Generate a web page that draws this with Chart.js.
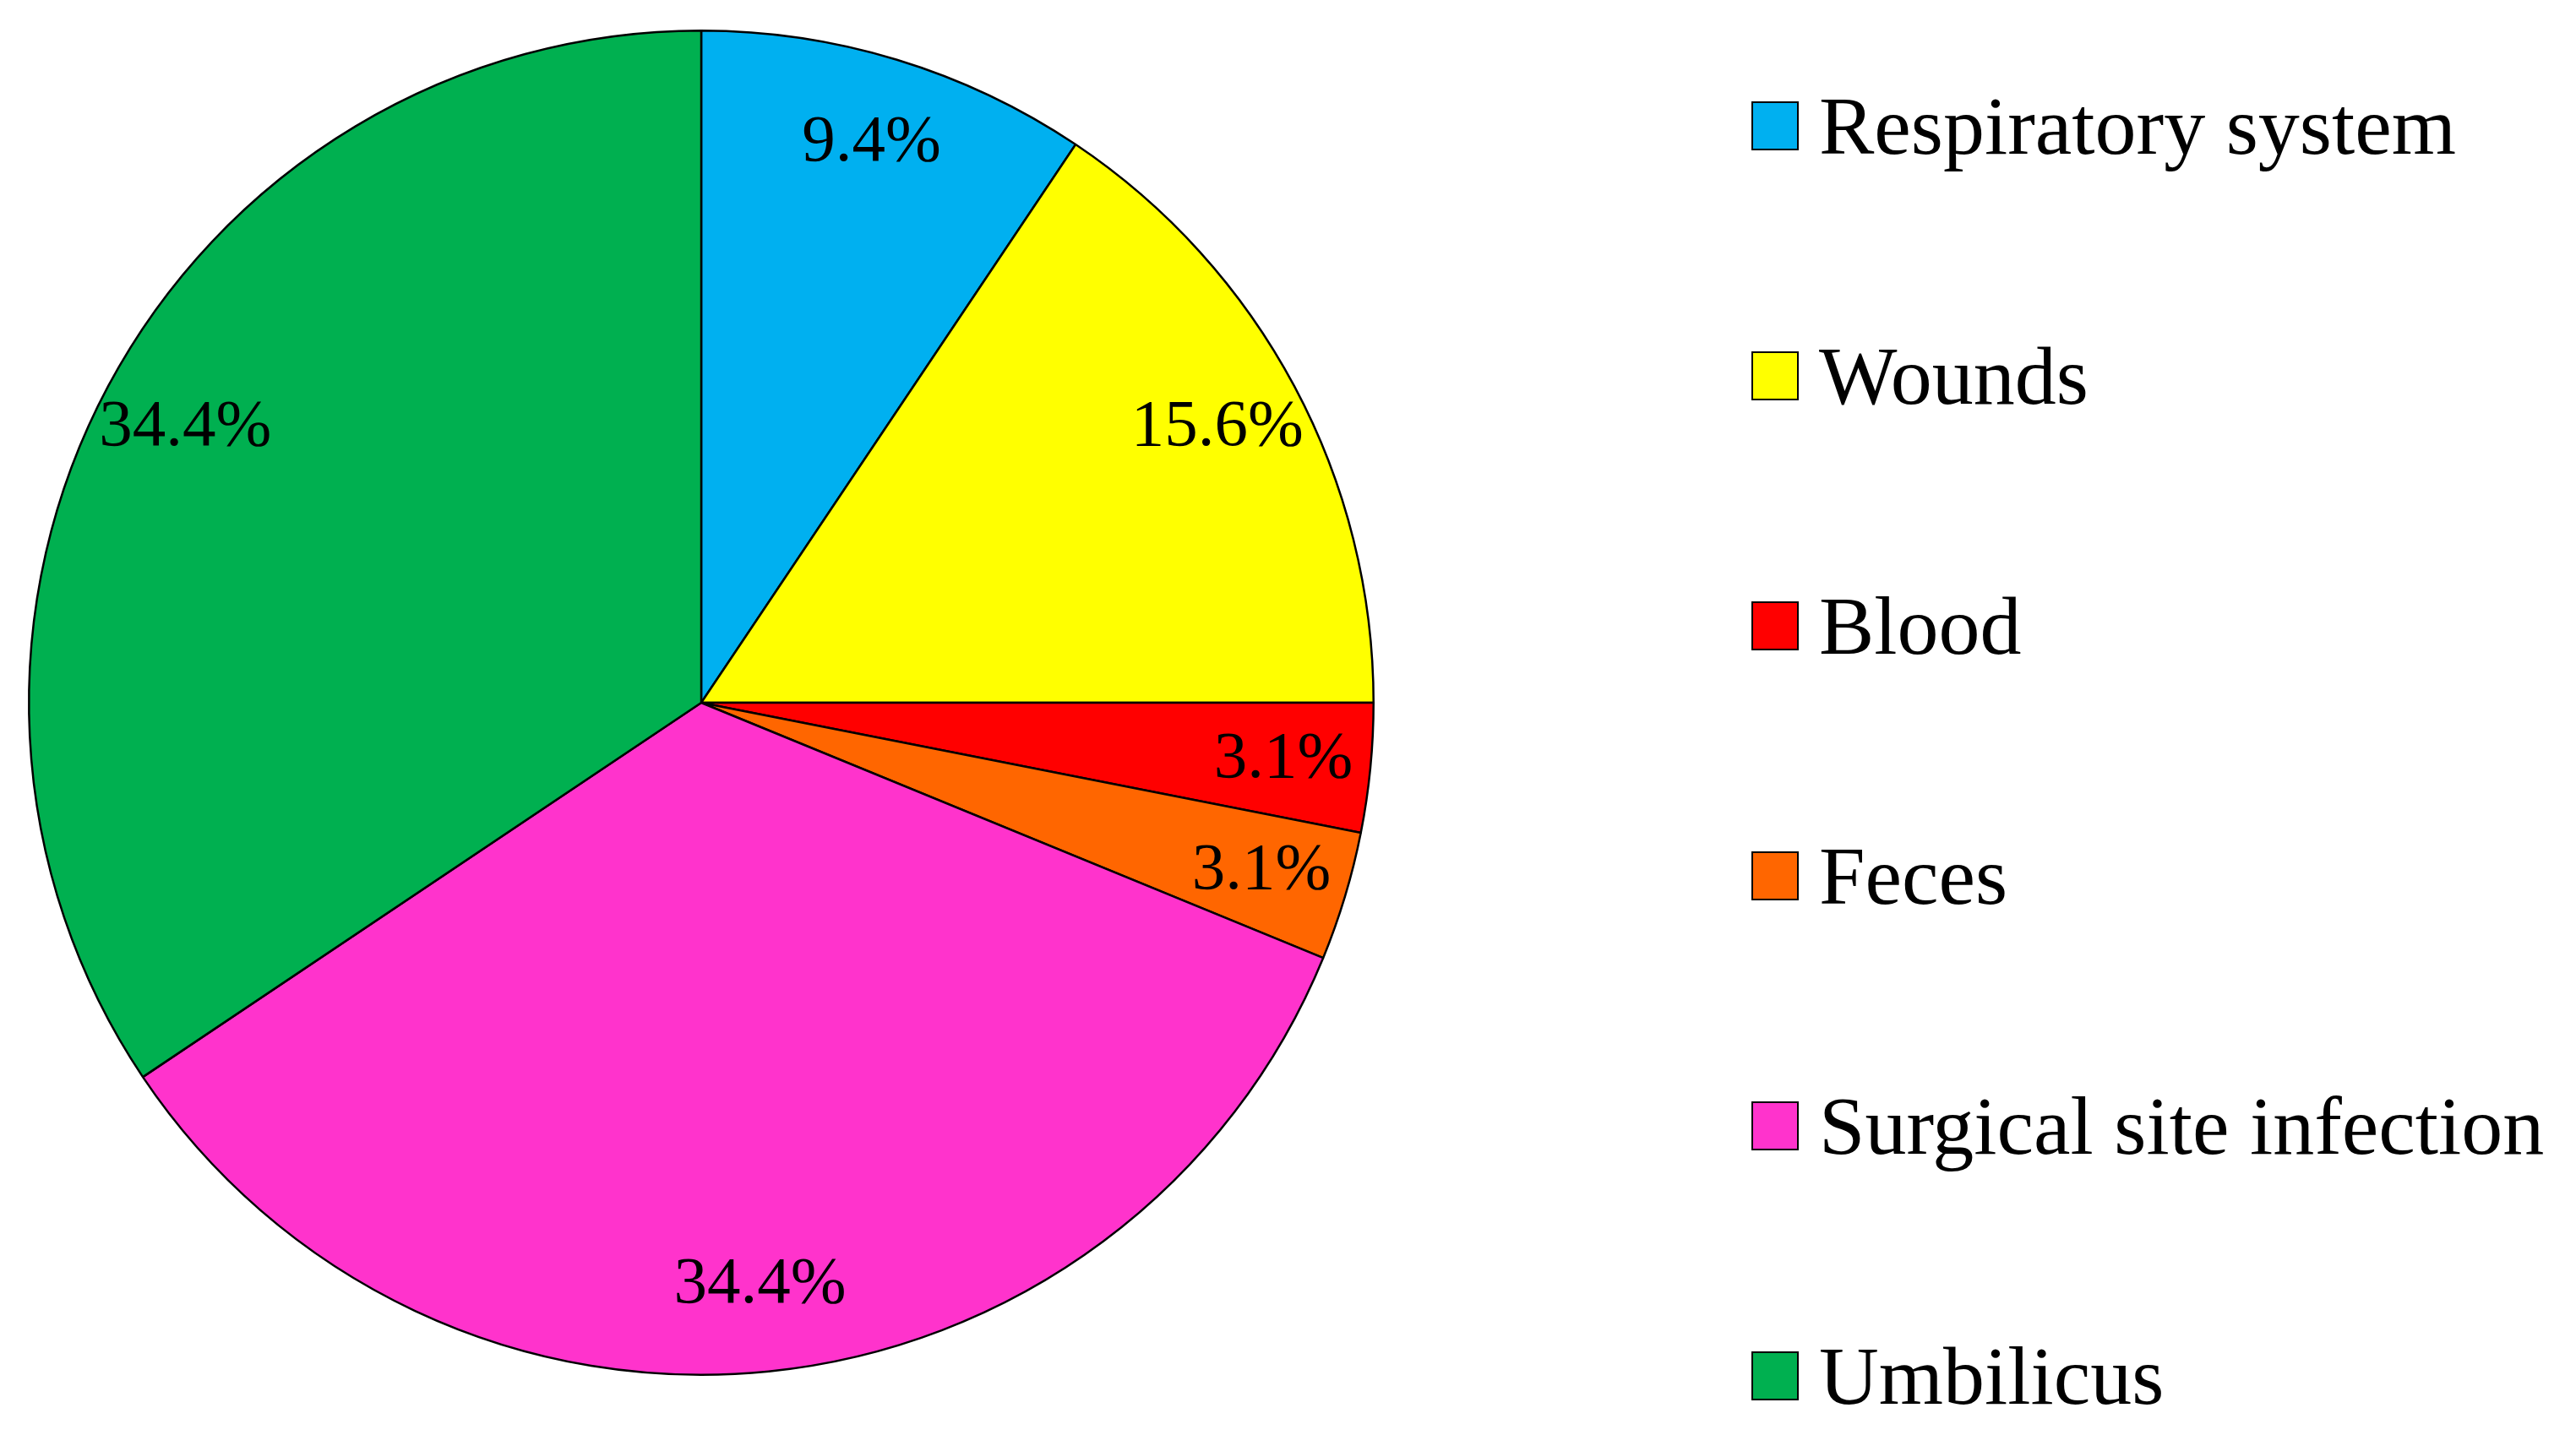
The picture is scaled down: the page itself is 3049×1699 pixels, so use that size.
<!DOCTYPE html>
<html>
<head>
<meta charset="utf-8">
<script src="https://cdn.jsdelivr.net/npm/chart.js@4/dist/chart.umd.min.js"></script>
<style>
  html, body { margin: 0; padding: 0; background: #fff; }
  #wrap { position: relative; width: 3049px; height: 1699px; }
  #chart { position: absolute; left: 0; top: 0; }
  #legend { position: absolute; left: 2073px; top: 1px; font-family: "Liberation Serif", "Times New Roman", serif; font-size: 98px; color: #000; }
  .item { height: 296px; display: flex; align-items: center; white-space: nowrap; }
  .box { width: 52px; height: 54px; border: 2px solid #000; margin-right: 24px; box-sizing: content-box; }
</style>
</head>
<body>
<div id="wrap">
  <canvas id="chart" width="3049" height="1699"></canvas>
  <div id="legend"></div>
</div>
<script>
const categories = ["Respiratory system", "Wounds", "Blood", "Feces", "Surgical site infection", "Umbilicus"];
const percents = [9.4, 15.6, 3.1, 3.1, 34.4, 34.4];
const colors = ["#00B0F0", "#FFFF00", "#FF0000", "#FF6600", "#FF33CC", "#00B050"];

// draws the % text inside each slice
const sliceLabels = {
    id: "sliceLabels",
    afterDatasetsDraw(chart) {
        const ctx = chart.ctx;
        const meta = chart.getDatasetMeta(0);
        ctx.save();
        ctx.font = "79px 'Liberation Serif', serif";
        ctx.fillStyle = "#000";
        ctx.textAlign = "center";
        ctx.textBaseline = "middle";
        meta.data.forEach((arc, i) => {
            const p = arc.getProps(["x", "y", "startAngle", "endAngle", "outerRadius"], true);
            const mid = (p.startAngle + p.endAngle) / 2;
            const r = p.outerRadius * 0.87;
            ctx.fillText(percents[i].toFixed(1) + "%", p.x + Math.cos(mid) * r, p.y + Math.sin(mid) * r);
        });
        ctx.restore();
    }
};

const chart = new Chart(document.getElementById("chart"), {
    type: "pie",
    data: {
        labels: categories,
        datasets: [{
            data: percents,
            backgroundColor: colors,
            borderColor: "#000",
            borderWidth: 2.5
        }]
    },
    options: {
        responsive: false,
        animation: false,
        layout: { padding: { left: 33, right: 1422, top: 35, bottom: 70 } },
        plugins: {
            legend: { display: false },
            tooltip: { enabled: false }
        }
    },
    plugins: [sliceLabels]
});

// html legend built from the chart's own legend items
const legend = document.getElementById("legend");
chart.options.plugins.legend.labels.generateLabels(chart).forEach(item => {
    legend.innerHTML += `
        <div class="item">
            <div class="box" style="background:${item.fillStyle}"></div>
            <span>${item.text}</span>
        </div>
    `;
});
</script>
</body>
</html>
